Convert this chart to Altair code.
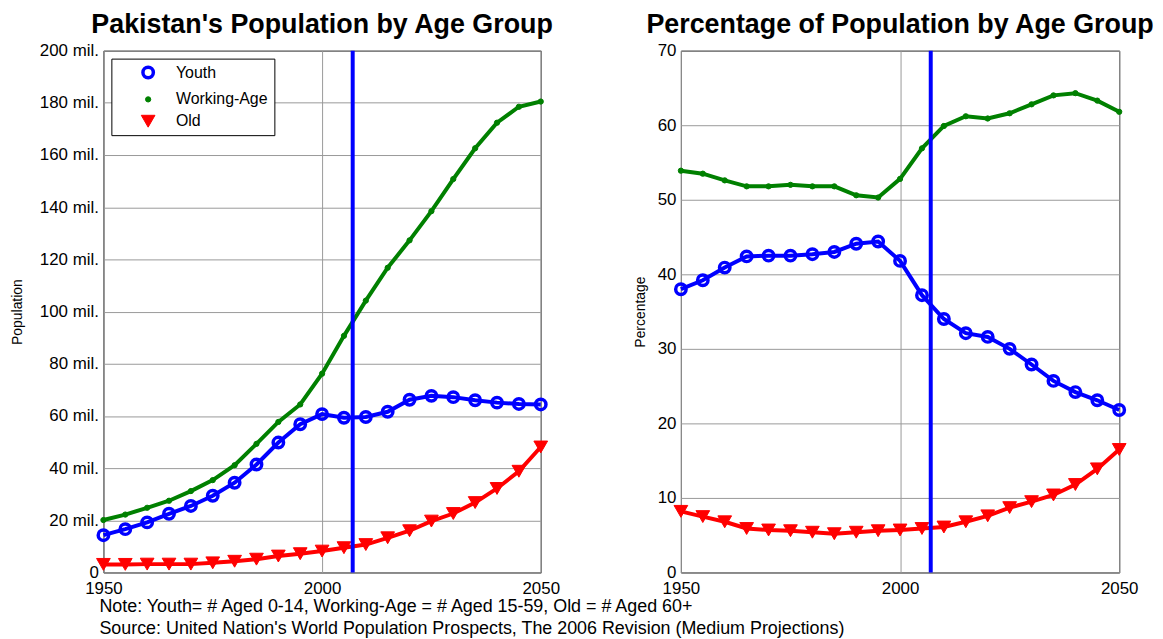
import altair as alt
import pandas as pd

years = list(range(1950, 2051, 5))
groups = ["Youth", "Working-Age", "Old"]

# Population in millions
youth_pop = [14.3, 16.6, 19.2, 22.5, 25.5, 29.4, 34.4, 41.4, 49.8, 56.8, 60.7,
             59.3, 59.6, 61.6, 66.2, 67.7, 67.2, 66.0, 65.1, 64.6, 64.4]
work_pop = [20.1, 22.2, 24.8, 27.5, 31.2, 35.4, 41.1, 49.3, 57.7, 64.4, 76.2,
            90.7, 104.2, 116.8, 127.3, 138.5, 150.8, 162.6, 172.4, 178.5, 180.5]
old_pop = [3.1, 3.1, 3.2, 3.2, 3.2, 3.7, 4.3, 5.1, 6.3, 7.2, 8.2,
           9.5, 10.7, 13.3, 16.0, 19.7, 22.6, 26.8, 32.2, 38.8, 48.1]

# Percentage of population
youth_pct = [38.0, 39.2, 40.9, 42.4, 42.5, 42.5, 42.7, 43.0, 44.1, 44.4, 41.8,
             37.2, 34.0, 32.1, 31.6, 30.0, 27.9, 25.7, 24.2, 23.1, 21.8]
work_pct = [53.9, 53.5, 52.6, 51.8, 51.8, 52.0, 51.8, 51.8, 50.6, 50.3, 52.8,
            56.9, 59.9, 61.2, 60.9, 61.6, 62.8, 64.0, 64.3, 63.3, 61.8]
old_pct = [8.2, 7.5, 6.8, 5.9, 5.7, 5.6, 5.4, 5.2, 5.4, 5.6, 5.7,
           5.9, 6.1, 6.8, 7.6, 8.7, 9.5, 10.4, 11.8, 13.9, 16.5]

current_year = [2007]

colors = ["#0000FF", "#008000", "#FF0000"]
shapes = ["circle", "circle", "triangle-down"]
sizes = [110, 28, 190]
fills = ["transparent", "#008000", "#FF0000"]
swidths = [3.5, 1, 1]

FONT = "Liberation Sans"


def long_df(a, b, c):
    rows = []
    for g, vals in zip(groups, [a, b, c]):
        for yr, v in zip(years, vals):
            rows.append({"year": yr, "group": g, "value": v})
    return pd.DataFrame(rows)


def panel(df, title, ytitle, ymax, ystep, label_expr, show_legend, width, tpad):
    x = alt.X("year:Q",
              scale=alt.Scale(domain=[1950, 2050], nice=False, zero=False),
              axis=alt.Axis(values=[1950, 2000, 2050], title=None, format="d",
                            labelFlush=False, labelPadding=8))
    y = alt.Y("value:Q",
              scale=alt.Scale(domain=[0, ymax], nice=False),
              axis=alt.Axis(values=list(range(0, ymax + 1, ystep)), title=ytitle,
                            labelExpr=label_expr, labelFlush=False, titlePadding=tpad))
    if show_legend:
        leg = alt.Legend(title=None, orient="top-left", offset=8,
                         strokeColor="black", fillColor="white", padding=6,
                         labelFontSize=16, labelFont=FONT, labelColor="black",
                         rowPadding=6, symbolOffset=23, labelOffset=20)
    else:
        leg = None
    base = alt.Chart(df)
    layers = []
    for g, c in zip(groups, colors):
        layers.append(
            base.transform_filter(alt.datum.group == g)
            .mark_line(strokeWidth=4, color=c)
            .encode(x=x, y=y)
        )
    pts = base.mark_point(filled=False, opacity=1).encode(
        x=x, y=y,
        color=alt.Color("group:N", scale=alt.Scale(domain=groups, range=colors), legend=leg),
        shape=alt.Shape("group:N", scale=alt.Scale(domain=groups, range=shapes), legend=leg),
        size=alt.Size("group:N", scale=alt.Scale(type="ordinal", domain=groups, range=sizes), legend=leg),
        fill=alt.Fill("group:N", scale=alt.Scale(domain=groups, range=fills), legend=leg),
        strokeWidth=alt.StrokeWidth("group:N", scale=alt.Scale(type="ordinal", domain=groups, range=swidths), legend=leg),
    )
    layers.append(pts)
    rule = alt.Chart(pd.DataFrame({"year": current_year})).mark_rule(
        color="#0000FF", strokeWidth=4).encode(x=alt.X("year:Q"))
    layers.append(rule)
    return alt.layer(*layers).properties(
        width=width, height=525,
        title=alt.TitleParams(title, font=FONT, fontSize=27, fontWeight="bold",
                              color="black", offset=3),
    )


left = panel(long_df(youth_pop, work_pop, old_pop),
             "Pakistan's Population by Age Group", "Population", 200, 20,
             "datum.value == 0 ? '0' : datum.value + ' mil.'", True, 440, 15)
right = panel(long_df(youth_pct, work_pct, old_pct),
              "Percentage of Population by Age Group", "Percentage", 70, 10,
              "datum.label", False, 441, 10)

chart = alt.hconcat(left, right, spacing=72).resolve_scale(
    color="independent", shape="independent", size="independent",
    fill="independent", strokeWidth="independent",
).properties(
    title=alt.TitleParams(
        ["Note: Youth= # Aged 0-14, Working-Age = # Aged 15-59, Old = # Aged 60+",
         "Source: United Nation's World Population Prospects, The 2006 Revision (Medium Projections)"],
        orient="bottom", anchor="start", font=FONT, fontSize=18, fontWeight="normal",
        color="black", dx=90, offset=1, lineHeight=22),
    padding={"left": 1, "top": 0, "right": 0, "bottom": 0},
).configure_view(stroke="black", strokeWidth=1).configure_axis(
    labelFont=FONT, labelFontSize=17, labelColor="black",
    titleFont=FONT, titleFontSize=14, titleFontWeight="normal", titleColor="black",
    gridColor="#999999", gridWidth=1, domain=False, ticks=False, labelPadding=5,
)

chart.save("out.html", embed_options={"renderer": "svg", "actions": False})
